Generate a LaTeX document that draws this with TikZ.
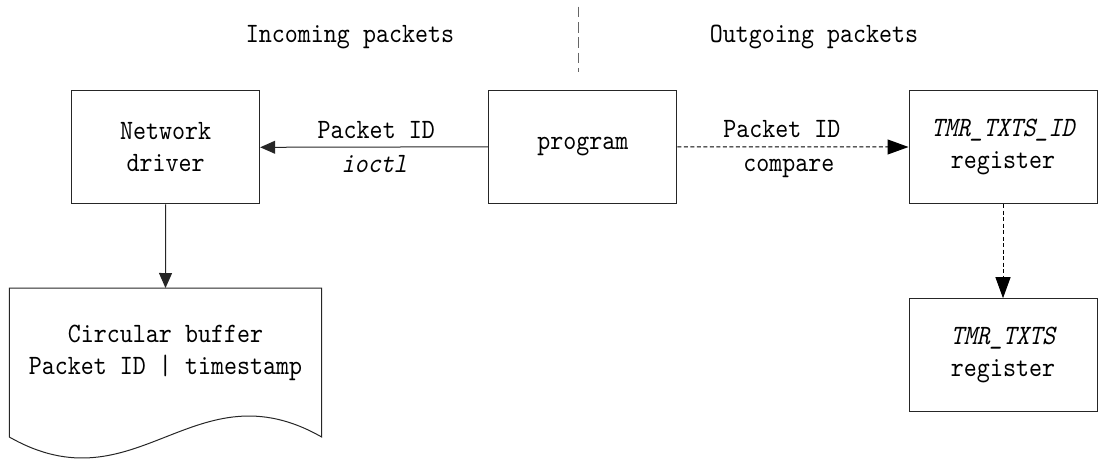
\documentclass[tikz,border=0pt]{standalone}
\usepackage{fontspec}
\setmainfont{lmmono10-regular.otf}[
  ItalicFont=lmmono10-regular.otf,
  ItalicFeatures={FakeSlant=0.22},
  FakeStretch=0.885]
\usetikzlibrary{arrows.meta}

\begin{document}
\begin{tikzpicture}[x=1pt,y=-1pt,
  ink/.style={draw=black!85, line width=1pt},
  every node/.style={font=\fontsize{28}{32}\selectfont, align=center, text=black},
  box/.style={ink, rectangle, minimum width=188pt, minimum height=113pt, inner sep=0pt},
  smalltip/.style={-{Triangle[length=15pt,width=13pt]}},
  bigtip/.style={-{Triangle[length=21pt,width=15pt]}},
  dashline/.style={draw=black, dash pattern=on 4pt off 2.5pt},
  upperlabel/.style={midway, anchor=base, inner sep=0pt, yshift=9pt},
  lowerlabel/.style={midway, anchor=base, inner sep=0pt, yshift=-25pt}]

  \useasboundingbox (0,0) rectangle (1099,459);

  % section titles and the divider between them
  \node[anchor=base] (incoming) at (350,42) {Incoming packets};
  \node[anchor=base] (outgoing) at (814,42) {Outgoing packets};
  \coordinate (divtop) at (578.7,6.7);
  \coordinate (divbot) at (578.7,72);
  \draw[black!60, line width=1.1pt, dash pattern=on 10.6pt off 4.7pt] (divtop) -- (divbot);

  % boxes
  \node[box] (drv)  at (165.7,147.3) {Network\\driver};
  \node[box] (prog) at (582.8,146.8) {program};
  \node[box] (reg1) at (1003,147)    {\textit{TMR\_TXTS\_ID}\\register};
  \node[box] (reg2) at (1003,355.2)  {\textit{TMR\_TXTS}\\register};

  % circular buffer drawn as a document shape
  \coordinate (bufA) at (9.3,288);
  \coordinate (bufB) at (321.7,288);
  \coordinate (bufC) at (321.7,437);
  \coordinate (bufD) at (9.3,437);
  \coordinate (bufN) at (165.5,288);
  \draw[ink] (bufA) -- (bufB) -- (bufC)
    .. controls (194.2,364.3) and (136.8,509.7) .. (bufD) -- cycle;
  \node (buf) at (165.5,352.5) {Circular buffer\\Packet ID | timestamp};

  % connectors
  \draw[ink, smalltip] (prog.west) -- (drv.east)
    node[upperlabel, xshift=2pt] {Packet ID}
    node[lowerlabel] {\textit{ioctl}};
  \draw[ink, bigtip, dashline] (prog.east) -- (reg1.west)
    node[upperlabel, xshift=-11pt] {Packet ID}
    node[lowerlabel, xshift=-4pt] {compare};
  \draw[ink, smalltip] (drv.south) -- (bufN);
  \draw[ink, bigtip, dashline] (reg1.south) -- (reg2.north);
\end{tikzpicture}
\end{document}
